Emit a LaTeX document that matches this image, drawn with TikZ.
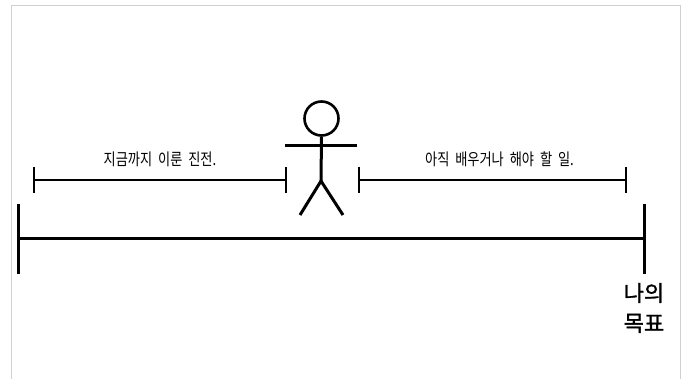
\documentclass[tikz,border=0pt]{standalone}
\usepackage{fontspec}
\newfontfamily\goalfont[FakeBold=1.3]{Noto Sans CJK KR}
\newfontfamily\spanfont[FakeStretch=0.8, WordSpace=2]{Noto Sans CJK KR}
\usetikzlibrary{positioning}
\tikzset{x=1pt, y=-1pt,
         frame/.style={draw=black!18, line width=1pt},
         bar/.style={line width=3pt},
         span/.style={line width=1.1pt},
         limb/.style={line width=3pt},
         spanlabel/.style={font=\spanfont\fontsize{16.5}{20}\selectfont, inner sep=0pt},
         goallabel/.style={font=\goalfont\fontsize{22}{30}\selectfont, align=center, inner sep=0pt}}

\begin{document}
\begin{tikzpicture}
                \useasboundingbox (0,0) rectangle (686,379);
                \draw[frame] (11.5,379) -- (11.5,5.5) -- (680,5.5) -- (680,379);
                % the whole road
                \coordinate (start) at (18.5,239);
                \coordinate (goal)  at (644,239);
                \draw[bar] (start) -- (goal);
                \draw[bar] ([yshift=35pt]start) -- ([yshift=-35pt]start);
                \draw[bar] ([yshift=35pt]goal) -- ([yshift=-35pt]goal);
                \node (mygoal) [goallabel] at (644,308) {나의\\목표};
                % done and to do
                \coordinate (doneL) at (34,180);
                \coordinate (doneR) at (286,180);
                \coordinate (todoL) at (359,180);
                \coordinate (todoR) at (626,180);
                \foreach \p in {doneL,doneR,todoL,todoR}
                  \draw[span] ([yshift=13pt]\p) -- ([yshift=-13pt]\p);
                \draw[span] (doneL) to node[spanlabel, yshift=21pt] (done) {지금까지 이룬 진전.} (doneR);
                \draw[span] (todoL) to node[spanlabel, yshift=21pt, xshift=7pt] (todo) {아직 배우거나 해야 할 일.} (todoR);
                % me
                \node (head) [draw, circle, line width=2.6pt, minimum size=34pt, inner sep=0pt] at (321.5,118.5) {};
                \coordinate (hip)   at (321,181);
                \coordinate (handL) at (285,146);
                \coordinate (handR) at (357,146);
                \coordinate (footL) at (300,215);
                \coordinate (footR) at (343,215);
                \draw[limb] (head.south) -- (hip);
                \draw[limb] (handL) -- (handR);
                \draw[limb] (footL) -- (hip) -- (footR);
              \end{tikzpicture}
\end{document}
